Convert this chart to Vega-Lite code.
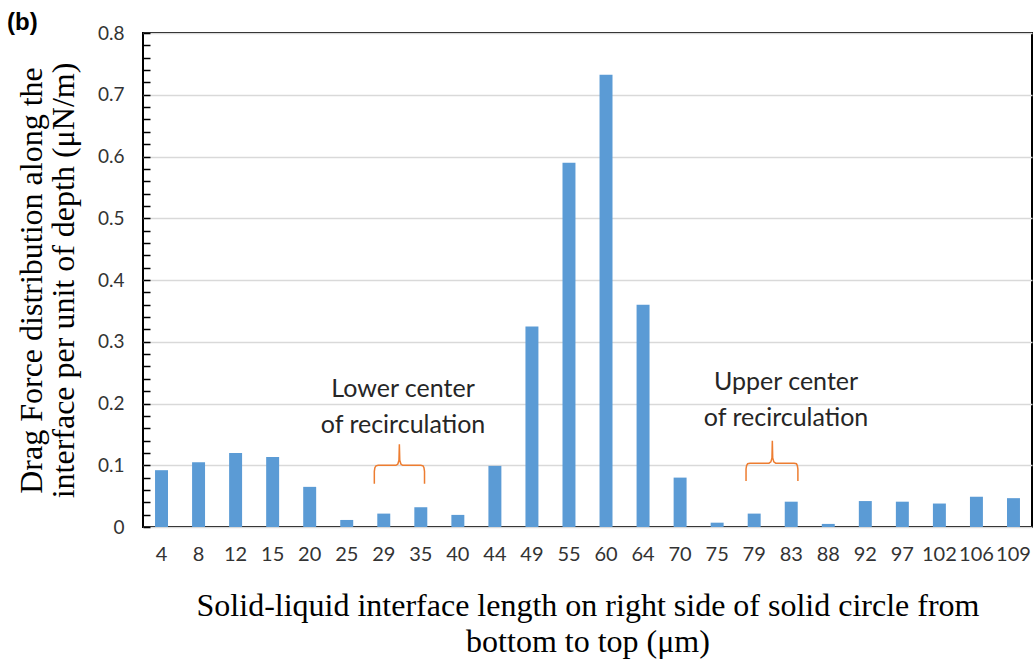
{
  "$schema": "https://vega.github.io/schema/vega-lite/v6.json",
  "width": 889,
  "height": 494,
  "autosize": {"type": "none"},
  "padding": {"left": 143, "top": 33, "right": 3, "bottom": 134},
  "background": "white",
  "config": {
    "view": {"stroke": "#000000", "strokeWidth": 2},
    "axis": {"domain": false}
  },
  "title": {
    "text": "(b)",
    "anchor": "start",
    "frame": "group",
    "dx": -136,
    "dy": 19,
    "offset": 8,
    "font": "Liberation Sans",
    "fontSize": 24,
    "fontWeight": "bold",
    "color": "#000000"
  },
  "datasets": {
    "bars": [
      {"length": 4, "force": 0.092},
      {"length": 8, "force": 0.105},
      {"length": 12, "force": 0.120},
      {"length": 15, "force": 0.1135},
      {"length": 20, "force": 0.065},
      {"length": 25, "force": 0.0114},
      {"length": 29, "force": 0.0217},
      {"length": 35, "force": 0.032},
      {"length": 40, "force": 0.0196},
      {"length": 44, "force": 0.099},
      {"length": 49, "force": 0.3246},
      {"length": 55, "force": 0.590},
      {"length": 60, "force": 0.7325},
      {"length": 64, "force": 0.360},
      {"length": 70, "force": 0.080},
      {"length": 75, "force": 0.007},
      {"length": 79, "force": 0.0217},
      {"length": 83, "force": 0.041},
      {"length": 88, "force": 0.005},
      {"length": 92, "force": 0.042},
      {"length": 97, "force": 0.041},
      {"length": 102, "force": 0.038},
      {"length": 106, "force": 0.049},
      {"length": 109, "force": 0.0467}
    ],
    "notes": [
      {"pos": 7.02, "val": 0.224, "label": "Lower center"},
      {"pos": 7.02, "val": 0.165, "label": "of recirculation"},
      {"pos": 17.36, "val": 0.2355, "label": "Upper center"},
      {"pos": 17.36, "val": 0.176, "label": "of recirculation"}
    ],
    "braces": [
      {"brace": "lower", "i": 1, "pos": 6.245, "val": 0.070},
      {"brace": "lower", "i": 2, "pos": 6.245, "val": 0.090},
      {"brace": "lower", "i": 3, "pos": 6.26, "val": 0.096},
      {"brace": "lower", "i": 4, "pos": 6.29, "val": 0.099},
      {"brace": "lower", "i": 5, "pos": 6.35, "val": 0.100},
      {"brace": "lower", "i": 6, "pos": 6.83, "val": 0.100},
      {"brace": "lower", "i": 7, "pos": 6.88, "val": 0.102},
      {"brace": "lower", "i": 8, "pos": 6.91, "val": 0.108},
      {"brace": "lower", "i": 9, "pos": 6.921, "val": 0.134},
      {"brace": "lower", "i": 10, "pos": 6.932, "val": 0.108},
      {"brace": "lower", "i": 11, "pos": 6.962, "val": 0.102},
      {"brace": "lower", "i": 12, "pos": 7.01, "val": 0.100},
      {"brace": "lower", "i": 13, "pos": 7.50, "val": 0.100},
      {"brace": "lower", "i": 14, "pos": 7.56, "val": 0.099},
      {"brace": "lower", "i": 15, "pos": 7.585, "val": 0.096},
      {"brace": "lower", "i": 16, "pos": 7.60, "val": 0.090},
      {"brace": "lower", "i": 17, "pos": 7.60, "val": 0.070},
      {"brace": "upper", "i": 1, "pos": 16.28, "val": 0.0744},
      {"brace": "upper", "i": 2, "pos": 16.28, "val": 0.094},
      {"brace": "upper", "i": 3, "pos": 16.295, "val": 0.0995},
      {"brace": "upper", "i": 4, "pos": 16.325, "val": 0.1025},
      {"brace": "upper", "i": 5, "pos": 16.385, "val": 0.1034},
      {"brace": "upper", "i": 6, "pos": 16.90, "val": 0.1034},
      {"brace": "upper", "i": 7, "pos": 16.95, "val": 0.1055},
      {"brace": "upper", "i": 8, "pos": 16.98, "val": 0.112},
      {"brace": "upper", "i": 9, "pos": 16.99, "val": 0.1396},
      {"brace": "upper", "i": 10, "pos": 17.00, "val": 0.112},
      {"brace": "upper", "i": 11, "pos": 17.03, "val": 0.1055},
      {"brace": "upper", "i": 12, "pos": 17.08, "val": 0.1034},
      {"brace": "upper", "i": 13, "pos": 17.58, "val": 0.1034},
      {"brace": "upper", "i": 14, "pos": 17.64, "val": 0.1025},
      {"brace": "upper", "i": 15, "pos": 17.665, "val": 0.0995},
      {"brace": "upper", "i": 16, "pos": 17.68, "val": 0.094},
      {"brace": "upper", "i": 17, "pos": 17.68, "val": 0.0744}
    ]
  },
  "layer": [
    {
      "data": {"name": "bars"},
      "mark": {"type": "bar", "color": "#5B9BD5"},
      "encoding": {
        "x": {
          "field": "length",
          "type": "ordinal",
          "scale": {"paddingInner": 0.65, "paddingOuter": 0.325},
          "axis": {
            "labelAngle": 0,
            "labelOverlap": false,
            "ticks": false,
            "labelPadding": 17,
            "labelFont": "Lato",
            "labelFontSize": 20,
            "labelColor": "#333333",
            "title": ["Solid-liquid interface length on right side of solid circle from", "bottom to top (μm)"],
            "titleFont": "Liberation Serif",
            "titleFontSize": 32,
            "titleFontWeight": "normal",
            "titleColor": "#000000",
            "titleBaseline": "top",
            "titleY": 63,
            "titleLineHeight": 36
          }
        },
        "y": {
          "field": "force",
          "type": "quantitative",
          "scale": {"domain": [0, 0.8], "nice": false},
          "axis": {
            "orient": "left",
            "values": [0, 0.1, 0.2, 0.3, 0.4, 0.5, 0.6, 0.7, 0.8],
            "format": ".1~f",
            "grid": true,
            "gridColor": "#D9D9D9",
            "gridWidth": 1.5,
            "ticks": false,
            "labelPadding": 19,
            "labelFont": "Lato",
            "labelFontSize": 19,
            "labelColor": "#333333",
            "title": ["Drag Force distribution along the", "interface per unit of depth (μN/m)"],
            "titleFont": "Liberation Serif",
            "titleFontSize": 32,
            "titleFontWeight": "normal",
            "titleColor": "#000000",
            "titleBaseline": "middle",
            "titleX": -112,
            "titleLineHeight": 32
          }
        }
      }
    },
    {
      "data": {"name": "notes"},
      "mark": {"type": "text", "font": "Lato", "fontSize": 25, "color": "#262626", "align": "center", "baseline": "middle"},
      "encoding": {
        "x": {"field": "pos", "type": "quantitative", "scale": {"domain": [0, 24], "nice": false, "zero": false}, "axis": null},
        "y": {
          "field": "val",
          "type": "quantitative",
          "scale": {"domain": [0, 0.8], "nice": false},
          "axis": {
            "orient": "left",
            "values": [0, 0.02, 0.04, 0.06, 0.08, 0.1, 0.12, 0.14, 0.16, 0.18, 0.2, 0.22, 0.24, 0.26, 0.28, 0.3, 0.32, 0.34, 0.36, 0.38, 0.4, 0.42, 0.44, 0.46, 0.48, 0.5, 0.52, 0.54, 0.56, 0.58, 0.6, 0.62, 0.64, 0.66, 0.68, 0.7, 0.72, 0.74, 0.76, 0.78, 0.8],
            "labels": false,
            "grid": false,
            "ticks": true,
            "tickSize": 7,
            "offset": -7,
            "tickColor": "#000000",
            "tickWidth": 1.5,
            "zindex": 2,
            "title": null
          }
        },
        "text": {"field": "label", "type": "nominal"}
      }
    },
    {
      "data": {"name": "braces"},
      "mark": {"type": "line", "color": "#ED7D31", "strokeWidth": 1.5, "interpolate": "linear"},
      "encoding": {
        "x": {"field": "pos", "type": "quantitative", "scale": {"domain": [0, 24], "nice": false, "zero": false}, "axis": null},
        "y": {"field": "val", "type": "quantitative", "scale": {"domain": [0, 0.8], "nice": false}, "axis": null},
        "detail": {"field": "brace", "type": "nominal"},
        "order": {"field": "i", "type": "quantitative"}
      }
    }
  ],
  "resolve": {"scale": {"x": "independent"}, "axis": {"y": "independent", "x": "independent"}}
}
